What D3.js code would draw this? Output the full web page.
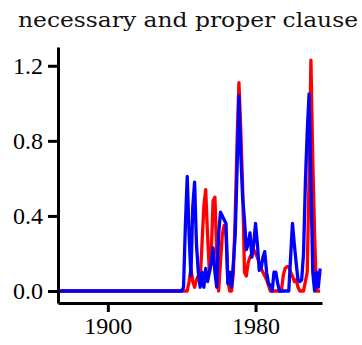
<!DOCTYPE html>
<html>
<head>
<meta charset="utf-8">
<script src="https://cdn.jsdelivr.net/npm/d3@7"></script>
<style>
  html, body { margin: 0; padding: 0; background: #fff; }
  svg { display: block; }
</style>
</head>
<body>
<svg id="chart" width="362" height="345"></svg>
<script>
// ---------- data ----------
const title = "necessary and proper clause";
const startYear = 1873;
const endYear = 2015;
// non-zero part of the series starts at 1940 (earlier years are 0)
const seriesStart = 1940;
const redValues = [
  // 1940-1949
  0.0, 0.0, 0.0, 0.0, 0.05, 0.12, 0.05, 0.02, 0.06, 0.08,
  // 1950-1959
  0.05, 0.25, 0.45, 0.54, 0.3, 0.1, 0.2, 0.48, 0.5, 0.2,
  // 1960-1969
  0.0, 0.15, 0.3, 0.35, 0.3, 0.05, 0.0, 0.0, 0.1, 0.4,
  // 1970-1979
  0.8, 1.11, 0.86, 0.56, 0.1, 0.08, 0.15, 0.18, 0.2, 0.22,
  // 1980-1989
  0.2, 0.18, 0.15, 0.12, 0.1, 0.08, 0.06, 0.03, 0.0, 0.0,
  // 1990-1999
  0.0, 0.0, 0.0, 0.0, 0.0, 0.08, 0.12, 0.13, 0.13, 0.1,
  // 2000-2009
  0.08, 0.05, 0.06, 0.02, 0.0, 0.0, 0.0, 0.05, 0.1, 0.6,
  // 2010-2015
  1.23, 0.7, 0.3, 0.0, 0.0, 0.0
];
const blueValues = [
  // 1940-1949
  0.0, 0.02, 0.35, 0.61, 0.3, 0.08, 0.45, 0.58, 0.25, 0.1,
  // 1950-1959
  0.02, 0.1, 0.02, 0.12, 0.05, 0.1, 0.15, 0.23, 0.1, 0.02,
  // 1960-1969
  0.3, 0.42, 0.4, 0.38, 0.36, 0.04, 0.1, 0.02, 0.15, 0.3,
  // 1970-1979
  0.65, 1.04, 0.73, 0.5, 0.38, 0.22, 0.25, 0.31, 0.18, 0.25,
  // 1980-1989
  0.36, 0.25, 0.11, 0.12, 0.18, 0.21, 0.1, 0.04, 0.03, 0.0,
  // 1990-1999
  0.1, 0.1, 0.04, 0.0, 0.0, 0.0, 0.0, 0.0, 0.0, 0.18,
  // 2000-2009
  0.36, 0.25, 0.15, 0.06, 0.05, 0.06, 0.2, 0.58, 0.85, 1.05,
  // 2010-2015
  0.58, 0.1, 0.0, 0.1, 0.02, 0.12
];
const xTicks = [1900, 1980];
const yTicks = [0.0, 0.4, 0.8, 1.2];

// ---------- build series ----------
function build(values) {
  const out = [];
  for (let y = startYear; y <= endYear; y++) {
    const i = y - seriesStart;
    out.push({ year: y, value: i >= 0 && i < values.length ? values[i] : 0 });
  }
  return out;
}
const red = build(redValues);
const blue = build(blueValues);

// ---------- layout ----------
const svg = d3.select("#chart");
const x = d3.scaleLinear().domain([1873, 2016]).range([58, 322]);
const y = d3.scaleLinear().domain([-0.064, 1.30]).range([303, 47]);

svg.append("text")
  .attr("x", 18)
  .attr("y", 27)
  .attr("textLength", 340)
  .attr("lengthAdjust", "spacingAndGlyphs")
  .style("font-family", "'DejaVu Serif', serif")
  .style("font-size", "20px")
  .style("font-weight", "300")
  .attr("fill", "#111")
  .text(title);

const line = d3.line().x(d => x(d.year)).y(d => y(d.value));

svg.append("path").datum(red)
  .attr("d", line)
  .attr("fill", "none")
  .attr("stroke", "#ff0000")
  .attr("stroke-width", 3.3)
  .attr("stroke-linejoin", "round");

svg.append("path").datum(blue)
  .attr("d", line)
  .attr("fill", "none")
  .attr("stroke", "#0000ff")
  .attr("stroke-width", 3.3)
  .attr("stroke-linejoin", "round");

// axes
const xAxis = svg.append("g")
  .attr("transform", "translate(0,303)")
  .call(d3.axisBottom(x).tickValues(xTicks).tickFormat(d3.format("d")).tickSize(9).tickPadding(5).tickSizeOuter(0));
const yAxis = svg.append("g")
  .attr("transform", "translate(58,0)")
  .call(d3.axisLeft(y).tickValues(yTicks).tickFormat(d3.format(".1f")).tickSize(10).tickPadding(5).tickSizeOuter(0));

[xAxis, yAxis].forEach(g => {
  g.select(".domain").attr("stroke", "#000").attr("stroke-width", 3);
  g.selectAll(".tick line").attr("stroke", "#000").attr("stroke-width", 3);
  g.selectAll(".tick text")
    .attr("fill", "#000")
    .style("font-family", "'Liberation Serif', serif")
    .style("font-size", "24px");
});
</script>
</body>
</html>
